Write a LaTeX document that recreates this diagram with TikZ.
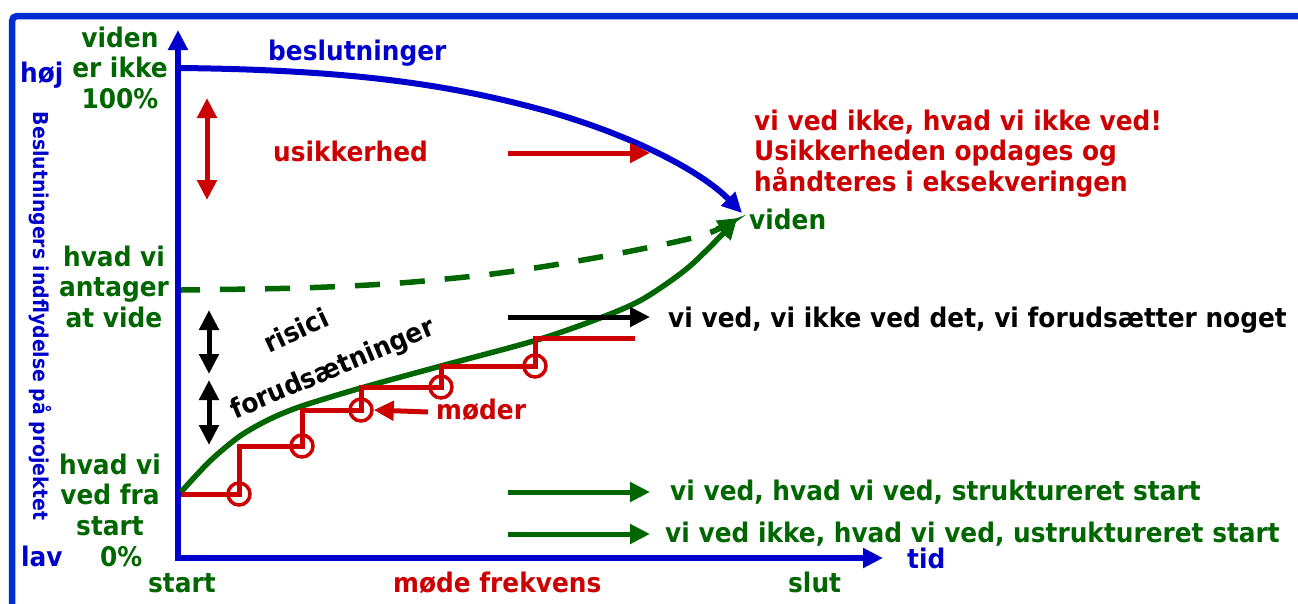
\documentclass[tikz,border=0pt]{standalone}
\usepackage{fontspec}
\setmainfont{DejaVu Sans}[FakeStretch=0.92]
\usetikzlibrary{arrows.meta}

\definecolor{axisblue}{RGB}{0,0,204}
\definecolor{frameblue}{RGB}{0,45,210}
\definecolor{darkgreen}{RGB}{0,102,0}
\definecolor{darkred}{RGB}{204,0,0}

\begin{document}
\begin{tikzpicture}[x=1pt, y=-1pt,
    >={Triangle[length=20pt,width=19pt]},
    lbl/.style = {
      font = \bfseries\fontsize{27}{30.5}\selectfont,
      inner sep = 0pt,
      anchor = base west
    },
    block/.style = {
      lbl,
      align = center,
      anchor = base
    },
    axis/.style = {
      draw = axisblue,
      line width = 6.5pt
    },
    legend/.style = {
      ->,
      line width = 5pt
    },
    twoway/.style = {
      <->,
      line width = 5pt
    },
    meet/.style = {
      draw = darkred,
      circle,
      line width = 3.5pt,
      inner sep = 0pt,
      minimum size = 22pt
    }
  ]
  \useasboundingbox (0,0) rectangle (1298,603);

  \draw[frameblue, line width=6.5pt, rounded corners=5pt] (12,650) |- (1340,16);

  % axes
  \coordinate (O) at (178,558);
  \coordinate (ytop) at (178,30);
  \coordinate (xend) at (883,558);
  \draw[axis,<->] (ytop) |- (xend);

  % curves
  \coordinate (bstart) at (181,68);
  \coordinate (bend) at (742,213);
  \draw[axisblue, line width=6pt, ->] (bstart) .. controls (350,70) and (450,84) .. (550,112)
    .. controls (630,135) and (700,170) .. (bend);
  \draw[darkgreen, line width=5.5pt, dash pattern=on 25pt off 20pt, dash phase=6pt, ->]
    plot[smooth] coordinates
    {(181,290) (300,288) (400,283) (500,273) (600,257) (700,236) (738,218)};
  \draw[darkgreen, line width=5.5pt, ->] plot[smooth] coordinates
    {(181,492) (210,461) (240,436) (270,419) (302,406) (361,388) (441,366)
     (537,340) (600,318) (643,299) (690,266) (737,219)};

  % meetings
  \coordinate (mstart) at (181,494);
  \node[meet] (m1) at (239,494) {};
  \node[meet] (m2) at (302,446) {};
  \node[meet] (m3) at (361,410) {};
  \node[meet] (m4) at (441,387) {};
  \node[meet] (m5) at (535,366) {};
  \coordinate (mend) at (635,338);
  \draw[darkred, line width=5pt] (mstart) -- (m1.center) |- (m2.center) |- (m3.center)
    |- (m4.center) |- (m5.center) |- (mend);

  % left scale
  \node[lbl, text=axisblue] (hoej) at (20,82) {høj};
  \node[lbl, text=axisblue] (lav) at (21,566) {lav};
  \node[block, text=darkgreen] (ikke100) at (120,108) {viden\\er ikke\\100\%};
  \node[block, text=darkgreen] (antager) at (114,327) {hvad vi\\antager\\at vide};
  \node[block, text=darkgreen] (vedfra) at (110,535) {hvad vi\\ved fra\\start};
  \node[lbl, text=darkgreen] (nul) at (100,566) {0\%};
  \node[anchor=base, inner sep=0pt, rotate=-90, text=axisblue,
    font=\bfseries\fontsize{20.5}{22}\selectfont] (indfl) at (33,316)
    {Beslutningers indflydelse på projektet};

  % time axis labels
  \node[lbl, text=darkgreen] (tstart) at (148,592) {start};
  \node[lbl, text=darkred] (frekv) at (393,592) {møde frekvens};
  \node[lbl, text=darkgreen] (slut) at (788,592) {slut};
  \node[lbl, text=axisblue] (tid) at (907,568) {tid};

  % inside labels
  \node[lbl, text=axisblue] (besl) at (268,60) {beslutninger};
  \node[lbl, text=darkred] (usik) at (273,161) {usikkerhed};
  \node[lbl, text=darkgreen] (viden) at (749,229) {viden};
  \node[lbl, anchor=center, rotate=25] (risici) at (296,330) {risici};
  \node[lbl, anchor=center, rotate=23] (forud) at (333,370) {forudsætninger};
  \node[lbl, text=darkred] (moeder) at (436,419) {møder};

  \coordinate (u1) at (207,98);
  \coordinate (u2) at (207,200);
  \draw[twoway, darkred] (u1) -- (u2);
  \coordinate (r1) at (209,310);
  \coordinate (r2) at (209,374);
  \coordinate (f1) at (209,380);
  \coordinate (f2) at (209,445);
  \draw[twoway] (r1) -- (r2);
  \draw[twoway] (f1) -- (f2);
  \coordinate (mtail) at (428,412);
  \draw[legend, darkred] (mtail) -- (m3.east);

  % legend arrows
  \node[lbl, text=darkred, align=left] (ukendt) at (754,191)
    {vi ved ikke, hvad vi ikke ved!\\Usikkerheden opdages og\\håndteres i eksekveringen};
  \node[lbl] (forudsat) at (668,327) {vi ved, vi ikke ved det, vi forudsætter noget};
  \node[lbl, text=darkgreen] (strukt) at (670,500) {vi ved, hvad vi ved, struktureret start};
  \node[lbl, text=darkgreen] (ustrukt) at (665,542) {vi ved ikke, hvad vi ved, ustruktureret start};

  \coordinate (a1) at (508,153);
  \coordinate (b1) at (650,153);
  \coordinate (a2) at (508,317);
  \coordinate (b2) at (650,317);
  \coordinate (a3) at (508,492);
  \coordinate (b3) at (650,492);
  \coordinate (a4) at (508,534);
  \coordinate (b4) at (650,534);
  \draw[legend, darkred] (a1) -- (b1);
  \draw[legend] (a2) -- (b2);
  \draw[legend, darkgreen] (a3) -- (b3);
  \draw[legend, darkgreen] (a4) -- (b4);
\end{tikzpicture}
\end{document}
